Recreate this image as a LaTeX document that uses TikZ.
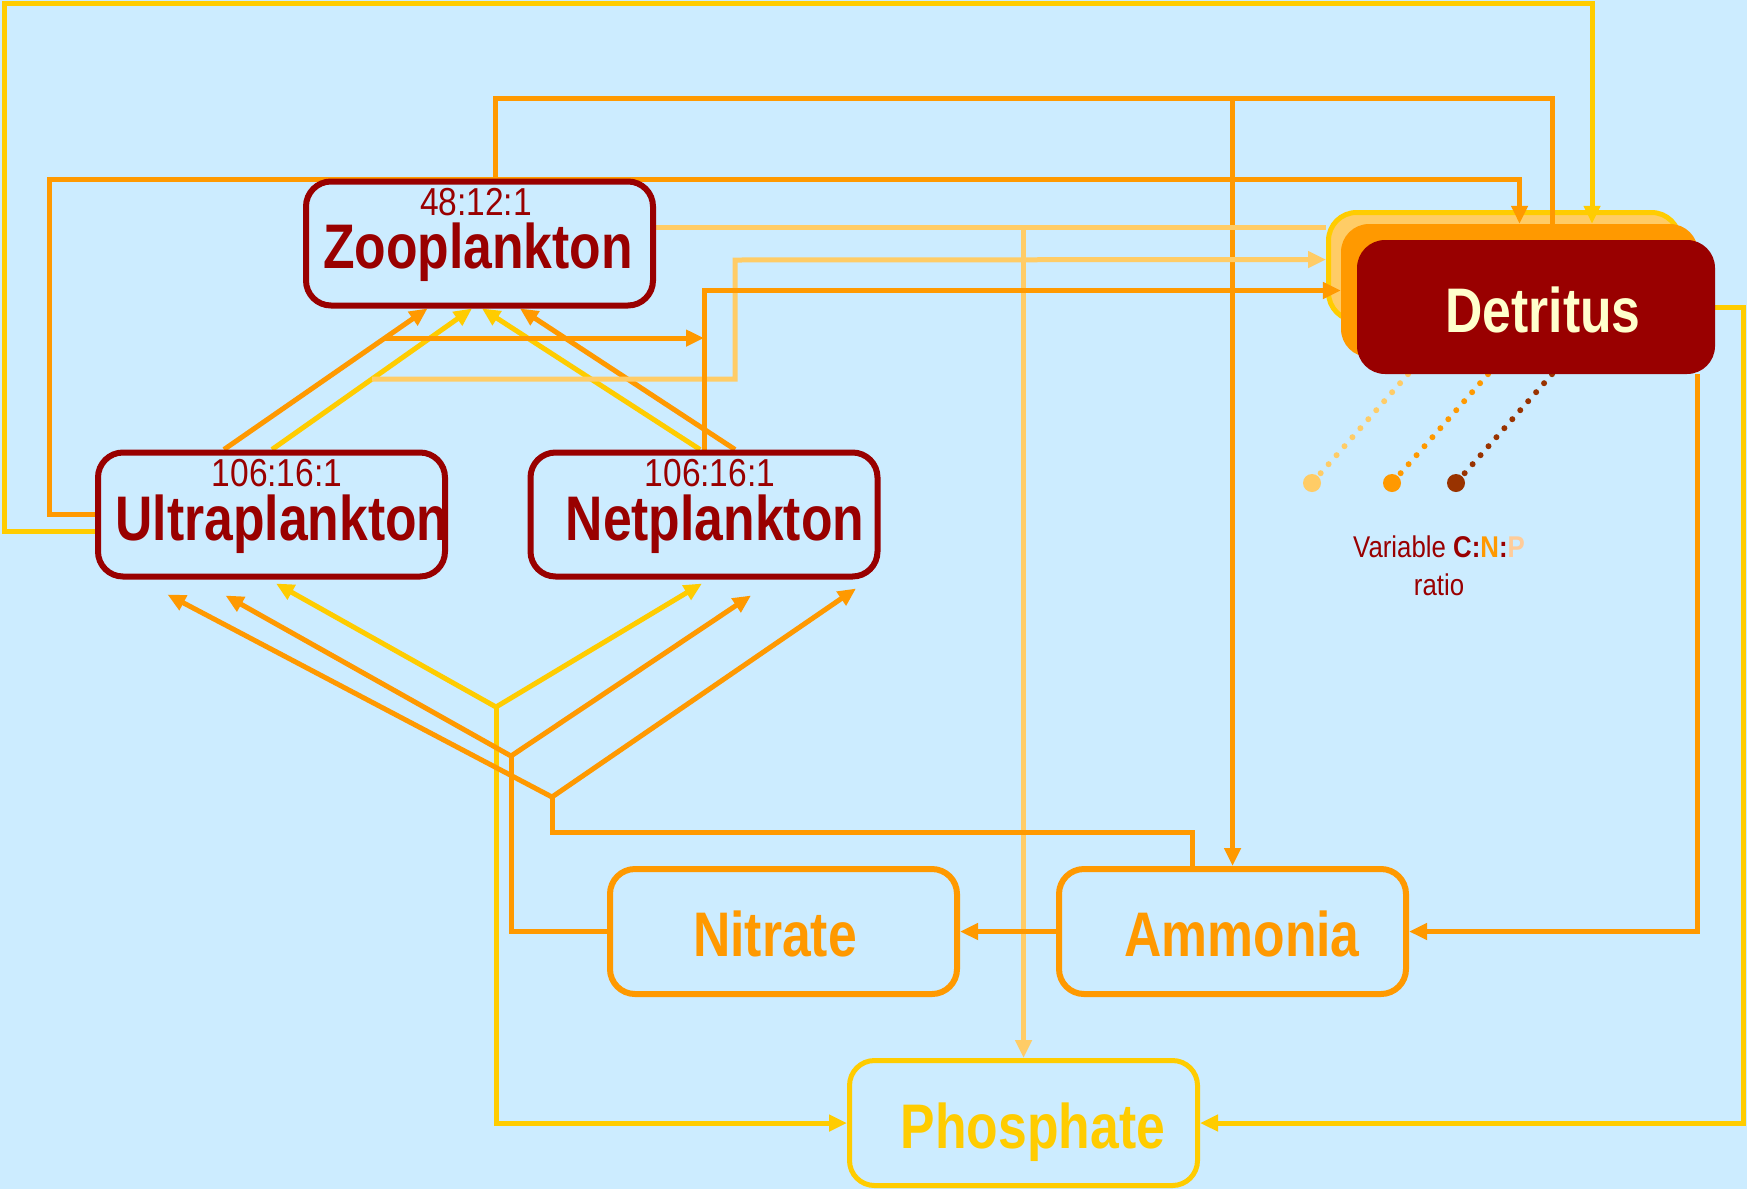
\documentclass[tikz,border=0pt]{standalone}
\usepackage{fontspec}
\setmainfont{Liberation Sans}
\newfontfamily\boxfont[FakeStretch=0.82]{Liberation Sans}
\newfontfamily\ratiofont[FakeStretch=0.86]{Liberation Sans}
\usetikzlibrary{arrows.meta}

\definecolor{sky}{HTML}{CCECFF}
\definecolor{darkred}{HTML}{990000}
\definecolor{orng}{HTML}{FF9900}
\definecolor{gold}{HTML}{FFCC00}
\definecolor{peach}{HTML}{FFCC66}
\definecolor{apricot}{HTML}{FFCC99}
\definecolor{cream}{HTML}{FFFFCC}
\definecolor{rust}{HTML}{993300}

\pgfdeclarelayer{bg}
\pgfdeclarelayer{lines}
\pgfsetlayers{bg,lines,main}

\tikzset{
    plank/.style={draw=darkred, line width=6pt, fill=sky, rounded corners=25pt, minimum width=347pt, minimum height=124pt},
    nutri/.style={draw=#1, line width=6pt, fill=sky, rounded corners=25pt, minimum width=347pt, minimum height=125pt},
    detbox/.style={rounded corners=28pt, inner sep=0pt},
    nametext/.style={font=\fontsize{63}{63}\boxfont\bfseries, anchor=base, inner sep=0pt},
    ratiotext/.style={font=\fontsize{39}{39}\ratiofont, text=darkred, anchor=base, inner sep=0pt},
    note/.style={font=\fontsize{30}{30}\ratiofont, text=darkred, anchor=base, inner sep=0pt},
    flow/.style={draw=#1, line width=5pt},
    speckle/.style={draw=#1, line width=6pt, line cap=round, dash pattern=on 0pt off 12pt},
    bead/.style={circle, fill=#1, minimum size=18pt, inner sep=0pt}
}

\begin{document}
\begin{tikzpicture}[x=1pt, y=-1pt, >={Triangle[length=18pt,width=16pt]}]
    \useasboundingbox (0,0) rectangle (1747,1189);
    \begin{pgfonlayer}{bg}
        \fill[sky] (0,0) rectangle (1747,1189);
        \node[detbox, fill=peach, draw=gold, line width=5pt, minimum width=351pt, minimum height=108pt] (det-p) at (1504,266.5) {};
        \node[detbox, fill=orng, minimum width=357pt, minimum height=133pt] (det-n) at (1519.5,290.5) {};
    \end{pgfonlayer}
    \node[detbox, fill=darkred, minimum width=358pt, minimum height=134pt] (det) at (1536,307) {};

    \node[plank] (zoo) at (479.5,243.5) {};
    \node[plank] (ultra) at (271.5,514.5) {};
    \node[plank] (net) at (704,514.5) {};
    \node[nutri=orng] (nitrate) at (783.5,931.5) {};
    \node[nutri=orng] (ammonia) at (1232.5,931.5) {};
    \node[nutri=gold, line width=5pt, minimum width=348pt] (phosphate) at (1023.5,1123) {};

    \node[ratiotext] (zoo-r) at (476,215) {48:12:1};
    \node[nametext, text=darkred] (zoo-t) at (478,268) {Zooplankton};
    \node[ratiotext] (ultra-r) at (277,486) {106:16:1};
    \node[nametext, text=darkred] (ultra-t) at (282,540) {Ultraplankton};
    \node[ratiotext] (net-r) at (710,486) {106:16:1};
    \node[nametext, text=darkred] (net-t) at (715,540) {Netplankton};
    \node[nametext, text=cream] (det-t) at (1543,332) {Detritus};
    \node[nametext, text=orng] (nitrate-t) at (775,956) {Nitrate};
    \node[nametext, text=orng] (ammonia-t) at (1242,956) {Ammonia};
    \node[nametext, text=gold] (phosphate-t) at (1033,1148) {Phosphate};
    \node[note] (cnp) at (1439,557) {Variable \textbf{C:\textcolor{orng}{N}:\textcolor{apricot}{P}}};
    \node[note] (cnp-r) at (1439,595) {ratio};

    \node[bead=peach] (dot-p) at (1312,483) {};
    \node[bead=orng] (dot-n) at (1392,483) {};
    \node[bead=rust] (dot-c) at (1456,483) {};

    \coordinate (pjunc) at (496,707);
    \coordinate (njunc) at (511,756);
    \coordinate (ajunc) at (552,797);

    \begin{pgfonlayer}{lines}
        \draw[flow=gold,->] ([yshift=-16.5]ultra.west) -| (4,3) -| ([xshift=72.5]det-n.north);
        \draw[flow=orng,->] (ultra.west) -| (49,179) -| (det-n.north);
        \draw[flow=orng] ([xshift=15.5]zoo.north) -- ++(0,-80) coordinate (excr) -| ([xshift=16]det.north);
        \draw[flow=orng,->] (excr -| ammonia.north) -- (ammonia.north);
        \draw[flow=peach] ([yshift=16.5]zoo.east) coordinate (zmort) -- (zmort -| det-p.west);
        \draw[flow=peach,->] (zmort -| phosphate.north) -- (phosphate.north);

        \draw[flow=orng,->] ([xshift=-47.5]ultra.north) -- coordinate[pos=0.79] (ugraz) ([xshift=-52]zoo.south);
        \draw[flow=gold,->] ([xshift=0.5]ultra.north) -- coordinate[pos=0.5] (umort) ([xshift=-7.5]zoo.south);
        \draw[flow=gold,->] ([xshift=-4]net.north) -- ([xshift=2.5]zoo.south);
        \draw[flow=orng,->] ([xshift=31]net.north) -- ([xshift=40.5]zoo.south);
        \draw[flow=orng,->] (ugraz) -- (ugraz -| net.north);
        \draw[flow=peach,->] (umort) -| (735,260) -- ([yshift=7]det-p.west);
        \draw[flow=orng,->] (net.north) |- (det-n.west);

        \draw[flow=gold,->] (pjunc) -- ([xshift=4.5,yshift=-4]ultra.south);
        \draw[flow=gold,->] (pjunc) -- ([xshift=-2,yshift=-4]net.south);
        \draw[flow=gold,->] (pjunc) |- (phosphate.west);
        \draw[flow=orng] (nitrate.west) -| (njunc);
        \draw[flow=orng,->] (njunc) -- ([xshift=-46,yshift=-16]ultra.south);
        \draw[flow=orng,->] (njunc) -- ([xshift=47,yshift=-16]net.south);
        \draw[flow=orng] ([xshift=-40.5]ammonia.north) -- ++(0,-34) -| (ajunc);
        \draw[flow=orng,->] (ajunc) -- ([xshift=-104,yshift=-15]ultra.south);
        \draw[flow=orng,->] (ajunc) -- ([xshift=152,yshift=-9]net.south);

        \draw[flow=orng,->] (ammonia.west) -- (nitrate.east);
        \draw[flow=orng,->] ([xshift=161]det.south) |- (ammonia.east);
        \draw[flow=gold,->] (det.east) -- ++(28,0) |- (phosphate.east);

        \draw[speckle=peach] ([xshift=-128]det.south) -- (dot-p);
        \draw[speckle=orng] ([xshift=-48]det.south) -- (dot-n);
        \draw[speckle=rust] ([xshift=16]det.south) -- (dot-c);
    \end{pgfonlayer}
\end{tikzpicture}
\end{document}
